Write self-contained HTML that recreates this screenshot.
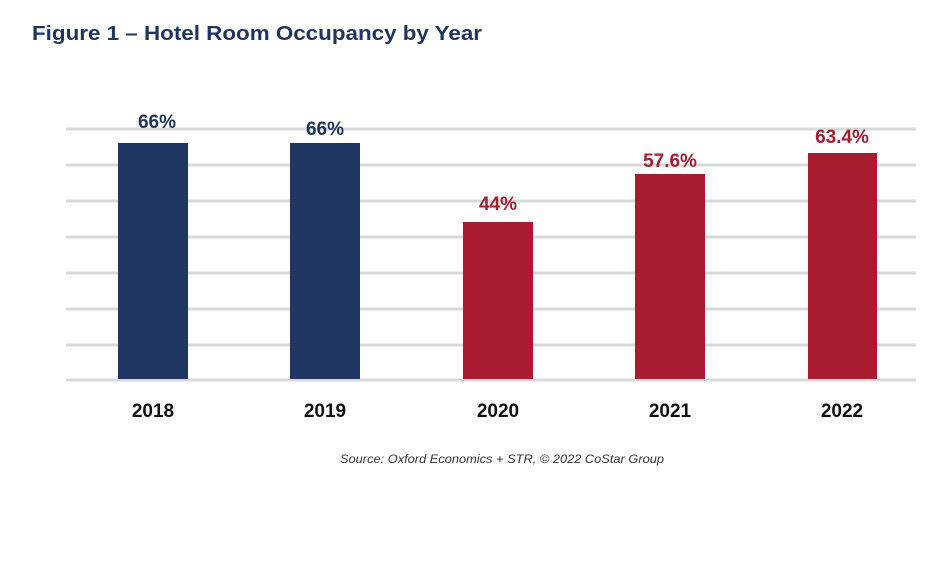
<!DOCTYPE html>
<html><head><style>
body{margin:0;background:#fff;width:936px;height:562px;overflow:hidden;font-family:"Liberation Sans",sans-serif;}
</style></head><body>
<svg width="936" height="562" xmlns="http://www.w3.org/2000/svg" font-family="Liberation Sans, sans-serif">
<text x="32" y="40" font-size="20" font-weight="bold" fill="#1f3560" textLength="450" lengthAdjust="spacingAndGlyphs">Figure 1 – Hotel Room Occupancy by Year</text>
<g stroke="#d9d9d9" stroke-width="3">
<line x1="66" x2="916" y1="129" y2="129"/>
<line x1="66" x2="916" y1="165" y2="165"/>
<line x1="66" x2="916" y1="201" y2="201"/>
<line x1="66" x2="916" y1="237" y2="237"/>
<line x1="66" x2="916" y1="273" y2="273"/>
<line x1="66" x2="916" y1="309" y2="309"/>
<line x1="66" x2="916" y1="345" y2="345"/>
<line x1="66" x2="916" y1="380" y2="380"/>
</g>
<rect x="118" y="143" width="70" height="236" fill="#1f3562"/>
<rect x="290" y="143" width="70" height="236" fill="#1f3562"/>
<rect x="463" y="222" width="70" height="157" fill="#a91b2e"/>
<rect x="635" y="174" width="70" height="205" fill="#a91b2e"/>
<rect x="808" y="153" width="69" height="226" fill="#a91b2e"/>
<g font-size="19" font-weight="bold" text-anchor="middle">
<text x="157" y="128" fill="#1f3560">66%</text>
<text x="325" y="135" fill="#1f3560">66%</text>
<text x="498" y="210" fill="#a91b2e">44%</text>
<text x="670" y="167" fill="#a91b2e">57.6%</text>
<text x="842" y="143" fill="#a91b2e">63.4%</text>
</g>
<g font-size="19" font-weight="bold" text-anchor="middle" fill="#111">
<text x="153" y="417">2018</text>
<text x="325" y="417">2019</text>
<text x="498" y="417">2020</text>
<text x="670" y="417">2021</text>
<text x="842" y="417">2022</text>
</g>
<text x="340" y="463" font-size="12" font-style="italic" fill="#333" textLength="324" lengthAdjust="spacingAndGlyphs">Source: Oxford Economics + STR, © 2022 CoStar Group</text>
</svg>
</body></html>
